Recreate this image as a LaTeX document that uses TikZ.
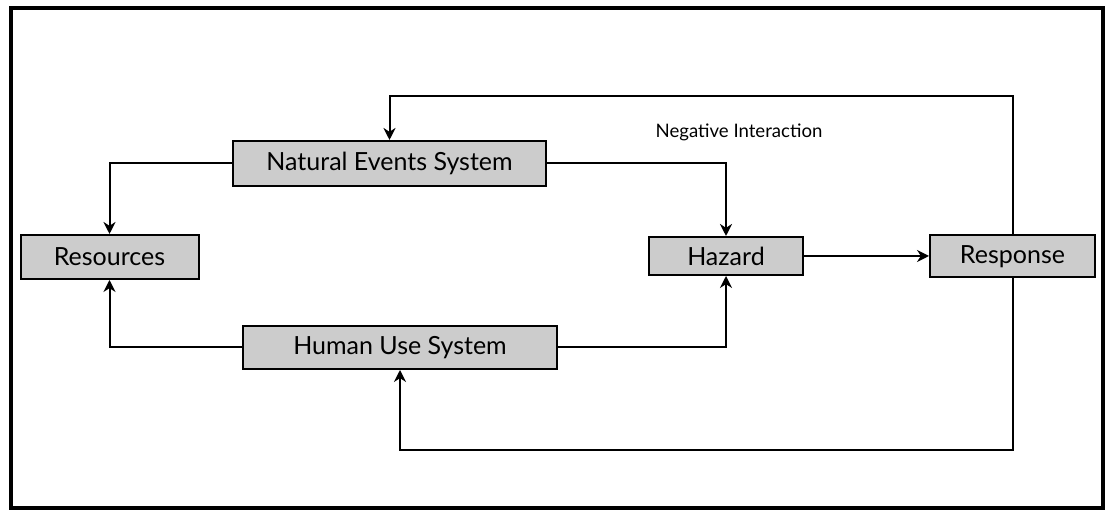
\documentclass[tikz,border=0pt]{standalone}
\usepackage{fontspec}
\setmainfont{Lato}
\usetikzlibrary{arrows.meta}
\begin{document}
\begin{tikzpicture}[x=0.5pt,y=-0.5pt,
  box/.style={draw=black,line width=1pt,fill=gray!40,inner sep=0pt,
    font=\fontsize{12.5}{14}\selectfont},
  conn/.style={line width=1pt,-{Stealth[length=6pt,width=6pt]}}]
\useasboundingbox (0,0) rectangle (1105,512);
\draw[line width=1.6pt] (11,8) rectangle (1103,508);
\node[box,minimum width=156.5pt,minimum height=22.5pt] (nes) at (389.5,163.5) {Natural Events System};
\node[box,minimum width=89pt,minimum height=22pt] (res) at (109.5,257) {Resources};
\node[box,minimum width=77pt,minimum height=19pt] (haz) at (726,256) {Hazard};
\node[box,minimum width=82.5pt,minimum height=21pt] (resp) at (1012.5,256.5) {Response};
\node[box,minimum width=157pt,minimum height=21.5pt] (hus) at (400,347.5) {Human Use System};
\node[font=\fontsize{9.3}{11}\selectfont] (neg) at (739,132) {Negative Interaction};
\coordinate (t1) at (1012.5,96);
\coordinate (t2) at (389.5,96);
\coordinate (b1) at (1012.5,450);
\coordinate (b2) at (400,450);
\draw[conn] (resp.north) -- (t1) -- (t2) -- (nes.north);
\draw[conn] (nes.west) -| (res.north);
\draw[conn] (nes.east) -| (haz.north);
\draw[conn] (hus.west) -| (res.south);
\draw[conn] (hus.east) -| (haz.south);
\draw[conn] (haz.east) -- (haz.east -| resp.west);
\draw[conn] (resp.south) -- (b1) -- (b2) -- (hus.south);
\end{tikzpicture}
\end{document}
